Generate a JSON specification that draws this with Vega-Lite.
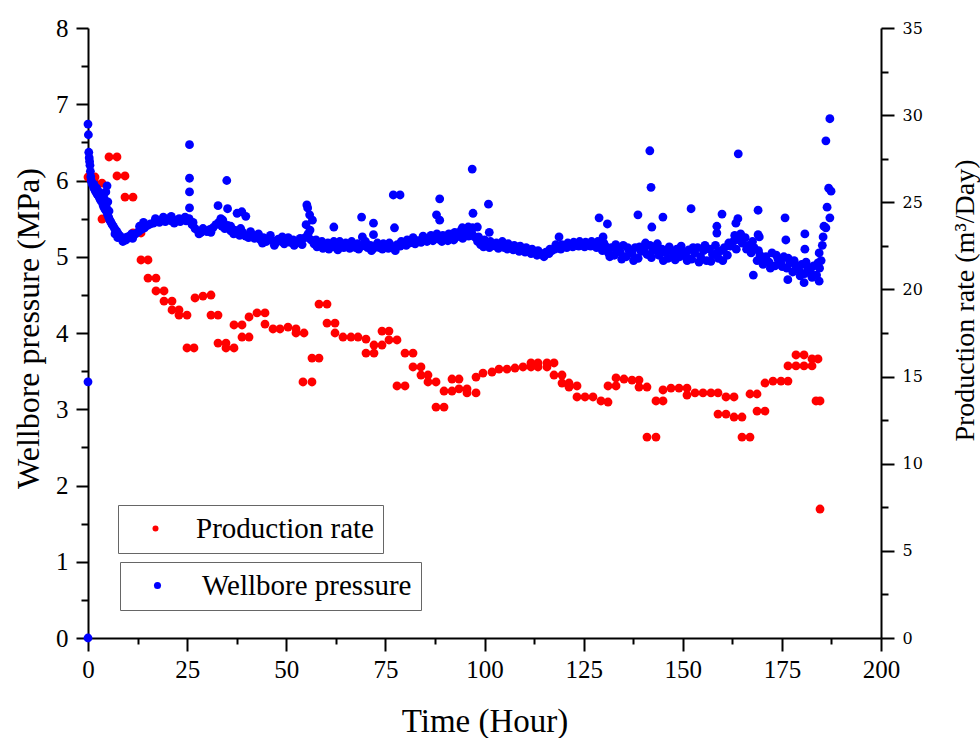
{
"$schema": "https://vega.github.io/schema/vega-lite/v6.json",
"width": 793, "height": 610,
"autosize": {"type": "none"},
"padding": {"left": 88, "top": 28, "right": 99, "bottom": 100},
"background": "white",
"config": {"view": {"stroke": null}, "font": "Liberation Serif"},
"datasets": {
"pressure": [
{"t":0,"p":0},{"t":0,"p":3.36},{"t":0,"p":6.74},{"t":0.1,"p":6.6},{"t":0.2,"p":6.37},{"t":0.3,"p":6.3},{"t":0.4,"p":6.25},{"t":0.5,"p":6.2},{"t":0.6,"p":6.12},{"t":0.7,"p":6.05},{"t":0.8,"p":6.0},{"t":1.0,"p":5.97},{"t":1.2,"p":5.94},{"t":1.5,"p":5.9},{"t":1.8,"p":5.87},{"t":2.0,"p":5.85},{"t":2.3,"p":5.82},{"t":2.6,"p":5.8},{"t":2.9,"p":5.77},{"t":3.2,"p":5.74},{"t":3.5,"p":5.72},{"t":3.8,"p":5.68},{"t":4.0,"p":5.65},{"t":4.3,"p":5.62},{"t":4.6,"p":5.6},{"t":4.9,"p":5.56},{"t":5.2,"p":5.52},{"t":5.5,"p":5.48},{"t":5.8,"p":5.45},{"t":6.1,"p":5.42},{"t":6.4,"p":5.4},{"t":6.7,"p":5.37},{"t":7.0,"p":5.35},{"t":7.3,"p":5.33},{"t":7.6,"p":5.3},{"t":7.9,"p":5.28},{"t":8.2,"p":5.26},{"t":8.5,"p":5.25},{"t":9.0,"p":5.24},{"t":9.5,"p":5.25},{"t":10.0,"p":5.26},
{"t":1.5,"p":5.95},{"t":2.2,"p":5.9},{"t":2.8,"p":5.85},{"t":3.4,"p":5.82},{"t":3.9,"p":5.8},{"t":4.2,"p":5.75},{"t":4.5,"p":5.85},{"t":4.8,"p":5.93},{"t":5.0,"p":5.72},{"t":4.6,"p":5.65},{"t":5.3,"p":5.6},{"t":6.8,"p":5.3},{"t":7.5,"p":5.25},{"t":8.8,"p":5.2},{"t":9.6,"p":5.22},
{"t":10.5,"p":5.27},{"t":11.25,"p":5.24},{"t":12,"p":5.3},{"t":12.75,"p":5.33},{"t":13.5,"p":5.36},{"t":14.25,"p":5.38},{"t":15,"p":5.41},{"t":15.75,"p":5.43},{"t":16.5,"p":5.44},{"t":17.25,"p":5.47},{"t":18,"p":5.45},{"t":18.75,"p":5.48},{"t":19.5,"p":5.46},{"t":20.25,"p":5.5},{"t":21,"p":5.47},{"t":21.75,"p":5.44},{"t":22.5,"p":5.48},{"t":23.25,"p":5.46},{"t":24,"p":5.49},{"t":24.75,"p":5.47},{"t":25.5,"p":5.5},{"t":26.25,"p":5.42},{"t":27,"p":5.37},{"t":27.75,"p":5.34},{"t":28.5,"p":5.32},{"t":29.25,"p":5.35},{"t":30,"p":5.33},{"t":30.75,"p":5.36},{"t":31.5,"p":5.38},{"t":32.25,"p":5.42},{"t":33,"p":5.45},{"t":33.75,"p":5.4},{"t":34.5,"p":5.37},{"t":35.25,"p":5.41},{"t":36,"p":5.34},{"t":36.75,"p":5.3},{"t":37.5,"p":5.33},{"t":38.25,"p":5.28},{"t":39,"p":5.32},{"t":39.75,"p":5.27},{"t":40.5,"p":5.25},{"t":41.25,"p":5.29},{"t":42,"p":5.24},{"t":42.75,"p":5.27},{"t":43.5,"p":5.22},{"t":44.25,"p":5.25},{"t":45,"p":5.2},{"t":45.75,"p":5.24},{"t":46.5,"p":5.21},{"t":47.25,"p":5.18},{"t":48,"p":5.23},{"t":48.75,"p":5.2},{"t":49.5,"p":5.17},{"t":50.25,"p":5.21},{"t":51,"p":5.19},{"t":51.75,"p":5.22},{"t":52.5,"p":5.18},{"t":53.25,"p":5.2},{"t":54,"p":5.16},{"t":54.75,"p":5.25},{"t":55.5,"p":5.3},{"t":56.25,"p":5.22},{"t":57,"p":5.17},{"t":57.75,"p":5.13},{"t":58.5,"p":5.15},{"t":59.25,"p":5.11},{"t":60,"p":5.14},{"t":60.75,"p":5.1},{"t":61.5,"p":5.16},{"t":62.25,"p":5.13},{"t":63,"p":5.09},{"t":63.75,"p":5.15},{"t":64.5,"p":5.12},{"t":65.25,"p":5.14},{"t":66,"p":5.11},{"t":66.75,"p":5.15},{"t":67.5,"p":5.12},{"t":68.25,"p":5.1},{"t":69,"p":5.14},{"t":69.75,"p":5.17},{"t":70.5,"p":5.12},{"t":71.25,"p":5.15},{"t":72,"p":5.11},{"t":72.75,"p":5.14},{"t":73.5,"p":5.12},{"t":74.25,"p":5.1},{"t":75,"p":5.13},{"t":75.75,"p":5.11},{"t":76.5,"p":5.14},{"t":77.25,"p":5.12},{"t":78,"p":5.16},{"t":78.75,"p":5.14},{"t":79.5,"p":5.17},{"t":80.25,"p":5.15},{"t":81,"p":5.18},{"t":81.75,"p":5.2},{"t":82.5,"p":5.17},{"t":83.25,"p":5.21},{"t":84,"p":5.19},{"t":84.75,"p":5.22},{"t":85.5,"p":5.2},{"t":86.25,"p":5.24},{"t":87,"p":5.21},{"t":87.75,"p":5.26},{"t":88.5,"p":5.23},{"t":89.25,"p":5.2},{"t":90,"p":5.24},{"t":90.75,"p":5.21},{"t":91.5,"p":5.25},{"t":92.25,"p":5.22},{"t":93,"p":5.26},{"t":93.75,"p":5.29},{"t":94.5,"p":5.24},{"t":95.25,"p":5.3},{"t":96,"p":5.27},{"t":96.75,"p":5.32},{"t":97.5,"p":5.26},{"t":98.25,"p":5.2},{"t":99,"p":5.16},{"t":99.75,"p":5.13},{"t":100.5,"p":5.15},{"t":101.25,"p":5.12},{"t":102,"p":5.16},{"t":102.75,"p":5.14},{"t":103.5,"p":5.11},{"t":104.25,"p":5.15},{"t":105,"p":5.12},{"t":105.75,"p":5.1},{"t":106.5,"p":5.13},{"t":107.25,"p":5.09},{"t":108,"p":5.11},{"t":108.75,"p":5.07},{"t":109.5,"p":5.1},{"t":110.25,"p":5.06},{"t":111,"p":5.08},{"t":111.75,"p":5.04},{"t":112.5,"p":5.06},{"t":113.25,"p":5.02},{"t":114,"p":5.05},{"t":114.75,"p":5.03},{"t":115.5,"p":5.06},{"t":116.25,"p":5.04},{"t":117,"p":5.08},{"t":117.75,"p":5.1},{"t":118.5,"p":5.12},{"t":119.25,"p":5.1},{"t":120,"p":5.14},{"t":120.75,"p":5.12},{"t":121.5,"p":5.15},{"t":122.25,"p":5.13},{"t":123,"p":5.16},{"t":123.75,"p":5.14},{"t":124.5,"p":5.15},{"t":125.25,"p":5.13},{"t":126,"p":5.16},{"t":126.75,"p":5.14},{"t":127.5,"p":5.17},{"t":128.25,"p":5.12},{"t":129,"p":5.16},{"t":129.75,"p":5.08},{"t":130.5,"p":5.14},{"t":131.25,"p":5.05},{"t":132,"p":5.12},{"t":132.75,"p":5.02},{"t":133.5,"p":5.1},{"t":134.25,"p":5.06},{"t":135,"p":5.15},{"t":135.75,"p":5.0},{"t":136.5,"p":5.08},{"t":137.25,"p":5.04},{"t":138,"p":5.12},{"t":138.75,"p":4.98},{"t":139.5,"p":5.07},{"t":140.25,"p":5.1},{"t":141,"p":5.03},{"t":141.75,"p":5.15},{"t":142.5,"p":5.08},{"t":143.25,"p":5.12},{"t":144,"p":5.02},{"t":144.75,"p":5.1},{"t":145.5,"p":5.06},{"t":146.25,"p":4.98},{"t":147,"p":5.08},{"t":147.75,"p":5.03},{"t":148.5,"p":5.1},{"t":149.25,"p":5.0},{"t":150,"p":5.06},{"t":150.75,"p":5.02},{"t":151.5,"p":5.09},{"t":152.25,"p":4.97},{"t":153,"p":5.05},{"t":153.75,"p":5.12},{"t":154.5,"p":5.0},{"t":155.25,"p":5.08},{"t":156,"p":4.95},{"t":156.75,"p":5.1},{"t":157.5,"p":5.03},{"t":158.25,"p":5.15},{"t":159,"p":4.98},{"t":159.75,"p":5.08},{"t":160.5,"p":5.12},{"t":161.25,"p":5.02},{"t":162,"p":5.14},{"t":162.75,"p":5.2},{"t":163.5,"p":5.1},{"t":164.25,"p":5.22},{"t":165,"p":5.18},{"t":165.75,"p":5.25},{"t":166.5,"p":5.15},{"t":167.25,"p":5.05},{"t":168,"p":5.12},{"t":168.75,"p":4.95},{"t":169.5,"p":5.02},{"t":170.25,"p":4.9},{"t":171,"p":5.0},{"t":171.75,"p":4.93},{"t":172.5,"p":5.05},{"t":173.25,"p":4.88},{"t":174,"p":4.97},{"t":174.75,"p":4.92},{"t":175.5,"p":5.0},{"t":176.25,"p":4.85},{"t":177,"p":4.92},{"t":177.75,"p":4.8},{"t":178.5,"p":4.88},{"t":179.25,"p":4.83},{"t":180,"p":4.9},{"t":180.75,"p":4.78},{"t":181.5,"p":4.86},{"t":182.25,"p":4.8},{"t":183,"p":4.88},{"t":183.75,"p":4.76},{"t":184.5,"p":4.85},
{"t":128.6,"p":5.2},{"t":130.1,"p":5.18},{"t":131.6,"p":5.0},{"t":133.1,"p":5.16},{"t":134.6,"p":4.97},{"t":136.1,"p":5.12},{"t":137.6,"p":4.95},{"t":139.1,"p":5.13},{"t":140.6,"p":5.18},{"t":142.1,"p":4.99},{"t":143.6,"p":5.17},{"t":145.1,"p":4.95},{"t":146.6,"p":5.13},{"t":148.1,"p":4.96},{"t":149.6,"p":5.14},{"t":151.1,"p":4.95},{"t":152.6,"p":5.12},{"t":154.1,"p":4.93},{"t":155.6,"p":5.15},{"t":157.1,"p":4.94},{"t":158.6,"p":5.05},{"t":160.1,"p":4.95},{"t":161.6,"p":5.18},{"t":163.1,"p":5.28},{"t":164.6,"p":5.3},{"t":166.1,"p":5.1},{"t":167.6,"p":5.2},{"t":169.1,"p":5.08},{"t":170.6,"p":4.95},{"t":172.1,"p":4.85},{"t":173.6,"p":5.02},{"t":175.1,"p":4.87},{"t":176.6,"p":4.98},{"t":178.1,"p":4.95},{"t":179.6,"p":4.75},{"t":181.1,"p":4.93},{"t":182.6,"p":4.73},{"t":184.1,"p":4.92},
{"t":11,"p":5.3},{"t":13,"p":5.4},{"t":14,"p":5.45},{"t":17,"p":5.5},{"t":19,"p":5.52},{"t":21,"p":5.53},{"t":23,"p":5.5},{"t":24.5,"p":5.52},{"t":26.5,"p":5.45},{"t":28,"p":5.3},{"t":29,"p":5.37},{"t":31,"p":5.32},{"t":33.5,"p":5.5},{"t":34,"p":5.48},{"t":36,"p":5.4},{"t":37,"p":5.35},{"t":38.5,"p":5.37},{"t":41,"p":5.33},{"t":43,"p":5.3},{"t":44,"p":5.18},{"t":46,"p":5.28},{"t":47,"p":5.15},{"t":49,"p":5.26},{"t":50.5,"p":5.25},{"t":52,"p":5.15},{"t":53.5,"p":5.24},{"t":55,"p":5.42},{"t":56,"p":5.35},{"t":57.5,"p":5.22},{"t":59,"p":5.2},{"t":60.5,"p":5.18},{"t":62,"p":5.2},{"t":63.5,"p":5.2},{"t":65,"p":5.18},{"t":66.5,"p":5.2},{"t":68,"p":5.17},{"t":70,"p":5.2},{"t":71.5,"p":5.08},{"t":73,"p":5.18},{"t":74.5,"p":5.17},{"t":76,"p":5.18},{"t":77.5,"p":5.08},{"t":79,"p":5.2},{"t":80.5,"p":5.22},{"t":82,"p":5.25},{"t":84.5,"p":5.27},{"t":86.5,"p":5.28},{"t":88,"p":5.3},{"t":89.5,"p":5.28},{"t":91,"p":5.3},{"t":92.5,"p":5.32},{"t":94,"p":5.34},{"t":95.5,"p":5.35},{"t":97,"p":5.38},{"t":98.5,"p":5.26},{"t":100,"p":5.22},{"t":101.5,"p":5.2},{"t":103,"p":5.18},{"t":104.5,"p":5.2},{"t":106,"p":5.17},{"t":107.5,"p":5.15},{"t":109,"p":5.14},{"t":110.5,"p":5.12},{"t":112,"p":5.1},{"t":113.5,"p":5.08},{"t":115,"p":5.0},{"t":116.5,"p":5.1},{"t":118,"p":5.16},{"t":119.5,"p":5.16},{"t":121,"p":5.18},{"t":122.5,"p":5.19},{"t":124,"p":5.2},{"t":125.5,"p":5.19},{"t":127,"p":5.2},
{"t":25.6,"p":6.47},{"t":25.6,"p":6.03},{"t":25.6,"p":5.85},{"t":25.6,"p":5.64},{"t":35,"p":6.0},{"t":32.8,"p":5.67},{"t":35.2,"p":5.63},{"t":37.6,"p":5.57},{"t":38.8,"p":5.59},{"t":39.8,"p":5.53},{"t":55.2,"p":5.68},{"t":55.4,"p":5.64},{"t":55.9,"p":5.55},{"t":56.6,"p":5.48},{"t":62,"p":5.39},{"t":69,"p":5.52},{"t":72,"p":5.44},{"t":77,"p":5.81},{"t":69.2,"p":5.26},{"t":72,"p":5.29},{"t":77.3,"p":5.38},
{"t":78.7,"p":5.81},{"t":88.7,"p":5.76},{"t":87.9,"p":5.55},{"t":88.7,"p":5.48},{"t":96.9,"p":6.15},{"t":97.1,"p":5.57},{"t":101,"p":5.69},{"t":101.2,"p":5.32},{"t":98.2,"p":5.39},{"t":95.9,"p":5.39},{"t":94.4,"p":5.38},{"t":118.8,"p":5.26},{"t":128.9,"p":5.51},{"t":131,"p":5.43},{"t":129.9,"p":5.26},{"t":138.7,"p":5.55},{"t":141.7,"p":6.39},{"t":142,"p":5.91},{"t":142.2,"p":5.39},{"t":145,"p":5.52},{"t":152.1,"p":5.63},{"t":159.9,"p":5.56},{"t":158.6,"p":5.4},{"t":158.6,"p":5.31},
{"t":164,"p":6.35},{"t":187.1,"p":6.81},{"t":186.1,"p":6.52},{"t":187.4,"p":5.86},{"t":186.4,"p":5.65},{"t":187.1,"p":5.51},{"t":186.1,"p":5.38},{"t":185.4,"p":5.26},{"t":185.2,"p":5.15},{"t":184.4,"p":5.05},{"t":163.4,"p":5.44},{"t":163.9,"p":5.5},{"t":169,"p":5.61},{"t":169,"p":5.29},{"t":169.3,"p":5.26},{"t":175.8,"p":5.51},{"t":176,"p":5.22},{"t":180.8,"p":5.3},{"t":180.8,"p":5.1},{"t":167.8,"p":4.76},{"t":176.5,"p":4.7},{"t":180.6,"p":4.66},{"t":184.4,"p":4.68},{"t":184.9,"p":4.95},{"t":185.6,"p":5.4},{"t":186.8,"p":5.9}
],
"rate": [
{"t":0,"q":26.45},{"t":1.77,"q":26.45},{"t":1.77,"q":26.1},{"t":3.53,"q":26.1},{"t":3.53,"q":24.04},{"t":5.3,"q":24.04},{"t":5.3,"q":27.6},{"t":7.31,"q":27.6},{"t":7.31,"q":26.51},{"t":9.33,"q":26.51},{"t":9.33,"q":25.3},{"t":11.35,"q":25.3},{"t":11.35,"q":23.24},{"t":13.37,"q":23.24},{"t":13.37,"q":21.69},{"t":15.13,"q":21.69},{"t":15.13,"q":20.65},{"t":17.15,"q":20.65},{"t":17.15,"q":19.91},{"t":19.17,"q":19.91},{"t":19.17,"q":19.33},{"t":21.19,"q":19.33},{"t":21.19,"q":18.82},{"t":22.95,"q":18.82},{"t":22.95,"q":18.53},{"t":24.97,"q":18.53},{"t":24.97,"q":16.64},{"t":26.73,"q":16.64},{"t":26.99,"q":19.51},{"t":29.0,"q":19.62},{"t":31.02,"q":19.68},{"t":31.02,"q":18.53},{"t":32.79,"q":18.53},{"t":32.79,"q":16.92},{"t":34.8,"q":16.92},{"t":34.8,"q":16.64},{"t":36.82,"q":16.64},{"t":36.82,"q":17.96},{"t":38.84,"q":17.96},{"t":38.84,"q":17.27},{"t":40.61,"q":17.27},{"t":40.61,"q":18.42},{"t":42.62,"q":18.65},{"t":44.64,"q":18.65},{"t":44.64,"q":18.01},{"t":46.66,"q":17.73},{"t":48.42,"q":17.73},{"t":50.44,"q":17.84},{"t":52.46,"q":17.73},{"t":52.46,"q":17.5},{"t":54.48,"q":17.5},{"t":54.22,"q":14.69},{"t":56.49,"q":14.69},{"t":56.49,"q":16.06},{"t":58.26,"q":16.06},{"t":58.26,"q":19.16},{"t":60.28,"q":19.16},{"t":60.28,"q":18.07},{"t":62.3,"q":18.07},{"t":62.3,"q":17.5},{"t":64.31,"q":17.27},{"t":66.33,"q":17.27},{"t":68.1,"q":17.27},{"t":70.11,"q":17.15},{"t":70.11,"q":16.35},{"t":72.13,"q":16.35},{"t":72.13,"q":16.81},{"t":74.15,"q":16.81},{"t":74.15,"q":17.61},{"t":75.91,"q":17.61},{"t":75.91,"q":17.1},{"t":77.93,"q":17.1},{"t":77.93,"q":14.46},{"t":79.95,"q":14.46},{"t":79.95,"q":16.35},{"t":81.97,"q":16.35},{"t":81.97,"q":15.55},{"t":83.98,"q":15.55},{"t":83.98,"q":15.09},{"t":85.75,"q":15.09},{"t":85.75,"q":14.69},{"t":87.77,"q":14.69},{"t":87.77,"q":13.25},{"t":89.79,"q":13.25},{"t":89.79,"q":14.17},{"t":91.8,"q":14.17},{"t":91.8,"q":14.86},{"t":93.57,"q":14.86},{"t":93.57,"q":14.29},{"t":95.59,"q":14.29},{"t":95.59,"q":14.06},{"t":97.86,"q":14.06},{"t":97.86,"q":14.97},{"t":99.62,"q":15.2},{"t":101.89,"q":15.26},{"t":103.66,"q":15.43},{"t":105.67,"q":15.43},{"t":107.69,"q":15.49},{"t":109.71,"q":15.55},{"t":111.73,"q":15.78},{"t":111.73,"q":15.55},{"t":113.49,"q":15.78},{"t":113.49,"q":15.55},{"t":115.76,"q":15.78},{"t":115.76,"q":15.55},{"t":117.53,"q":15.78},{"t":117.53,"q":15.09},{"t":119.55,"q":15.09},{"t":119.55,"q":14.63},{"t":121.31,"q":14.63},{"t":121.31,"q":14.4},{"t":123.33,"q":14.46},{"t":123.33,"q":13.83},{"t":125.35,"q":13.83},{"t":127.36,"q":13.83},{"t":129.38,"q":13.6},{"t":131.15,"q":13.54},{"t":131.15,"q":14.46},{"t":133.17,"q":14.46},{"t":133.17,"q":14.92},{"t":135.18,"q":14.86},{"t":137.2,"q":14.8},{"t":138.97,"q":14.8},{"t":138.97,"q":14.4},{"t":140.98,"q":14.4},{"t":140.98,"q":11.53},{"t":143.25,"q":11.53},{"t":143.25,"q":13.6},{"t":145.02,"q":13.6},{"t":145.02,"q":14.23},{"t":147.04,"q":14.34},{"t":149.05,"q":14.34},{"t":151.07,"q":14.34},{"t":151.07,"q":13.94},{"t":153.09,"q":14.06},{"t":155.11,"q":14.06},{"t":157.12,"q":14.06},{"t":158.89,"q":14.06},{"t":158.89,"q":12.85},{"t":160.91,"q":12.85},{"t":160.91,"q":13.83},{"t":162.93,"q":13.83},{"t":162.93,"q":12.68},{"t":164.94,"q":12.68},{"t":164.94,"q":11.53},{"t":166.96,"q":11.53},{"t":166.96,"q":14.0},{"t":168.73,"q":14.0},{"t":168.73,"q":13.02},{"t":170.74,"q":13.02},{"t":170.74,"q":14.63},{"t":172.76,"q":14.74},{"t":174.78,"q":14.74},{"t":176.54,"q":14.74},{"t":176.54,"q":15.61},{"t":178.56,"q":15.61},{"t":178.56,"q":16.24},{"t":180.58,"q":16.24},{"t":180.58,"q":15.61},{"t":182.6,"q":15.61},{"t":182.6,"q":16.01},{"t":184.11,"q":16.01},{"t":183.61,"q":13.6},{"t":184.62,"q":13.6},{"t":184.62,"q":7.4}
]
},
"layer": [
{
"data": {"name": "rate"},
"mark": {"type": "circle", "size": 78, "opacity": 1},
"encoding": {
"x": {"field": "t", "type": "quantitative", "scale": {"domain": [0, 200], "nice": false, "zero": false},
"axis": {"title": "Time (Hour)", "values": [0,12.5,25,37.5,50,62.5,75,87.5,100,112.5,125,137.5,150,162.5,175,187.5,200],
"labelExpr": "datum.value % 25 === 0 ? format(datum.value, 'd') : ''",
"tickSize": {"condition": {"test": "datum.value % 25 !== 0", "value": 6}, "value": 13},
"tickWidth": 2, "tickColor": "black", "domainWidth": 2, "domainColor": "black", "grid": false,
"labelFont": "Liberation Serif", "labelFontSize": 25, "labelColor": "black", "labelPadding": 6, "labelFlush": false, "labelOverlap": false,
"titleFont": "Liberation Serif", "titleFontSize": 33, "titleFontWeight": "normal", "titleColor": "black", "titleBaseline": "alphabetic", "titleY": 93}},
"y": {"field": "q", "type": "quantitative", "scale": {"domain": [0, 35], "nice": false, "zero": false},
"axis": {"orient": "right", "title": "Production rate (m³/Day)", "values": [0,2.5,5,7.5,10,12.5,15,17.5,20,22.5,25,27.5,30,32.5,35],
"labelExpr": "datum.value % 5 === 0 ? format(datum.value, 'd') : ''",
"tickSize": {"condition": {"test": "datum.value % 5 !== 0", "value": 7}, "value": 13},
"tickWidth": 2, "tickColor": "black", "domainWidth": 2, "domainColor": "black", "grid": false,
"labelFont": "DejaVu Serif", "labelFontSize": 16, "labelColor": "black", "labelPadding": 8, "labelFlush": false, "labelOverlap": false,
"titleFont": "Liberation Serif", "titleFontSize": 28, "titleFontWeight": "normal", "titleColor": "black", "titleAngle": 270, "titleBaseline": "alphabetic", "titleAlign": "center", "titleX": 92, "titleY": 272}},
"color": {"datum": "Production rate", "type": "nominal", "scale": {"range": ["#ff0000"]},
"legend": {"title": null, "orient": "none", "legendX": 30, "legendY": 477, "strokeColor": "#666", "padding": 9, "fillColor": "white",
"labelFont": "Liberation Serif", "labelFontSize": 29, "labelColor": "black", "labelLimit": 0, "labelOffset": 26,
"symbolType": "circle", "symbolSize": 36, "symbolOffset": 14, "symbolStrokeWidth": 0}}
}
},
{
"data": {"name": "pressure"},
"mark": {"type": "circle", "size": 78, "opacity": 1},
"encoding": {
"x": {"field": "t", "type": "quantitative"},
"y": {"field": "p", "type": "quantitative", "scale": {"domain": [0, 8], "nice": false, "zero": false},
"axis": {"orient": "left", "title": "Wellbore pressure (MPa)", "values": [0,0.5,1,1.5,2,2.5,3,3.5,4,4.5,5,5.5,6,6.5,7,7.5,8],
"labelExpr": "datum.value % 1 === 0 ? format(datum.value, 'd') : ''",
"tickSize": {"condition": {"test": "datum.value % 1 !== 0", "value": 7}, "value": 12},
"tickWidth": 2, "tickColor": "black", "domainWidth": 2, "domainColor": "black", "grid": false,
"labelFont": "Liberation Serif", "labelFontSize": 25, "labelColor": "black", "labelPadding": 8, "labelFlush": false, "labelOverlap": false,
"titleFont": "Liberation Serif", "titleFontSize": 32, "titleFontWeight": "normal", "titleColor": "black", "titleAngle": 270, "titleBaseline": "alphabetic", "titleAlign": "center", "titleX": -50, "titleY": 300}},
"color": {"datum": "Wellbore pressure", "type": "nominal", "scale": {"range": ["#0000ff"]},
"legend": {"title": null, "orient": "none", "legendX": 32, "legendY": 534, "strokeColor": "#666", "padding": 9, "fillColor": "white",
"labelFont": "Liberation Serif", "labelFontSize": 29, "labelColor": "black", "labelLimit": 0, "labelOffset": 30,
"symbolType": "circle", "symbolSize": 50, "symbolOffset": 14, "symbolStrokeWidth": 0}}
}
}
],
"resolve": {"scale": {"y": "independent", "color": "independent"}}
}
